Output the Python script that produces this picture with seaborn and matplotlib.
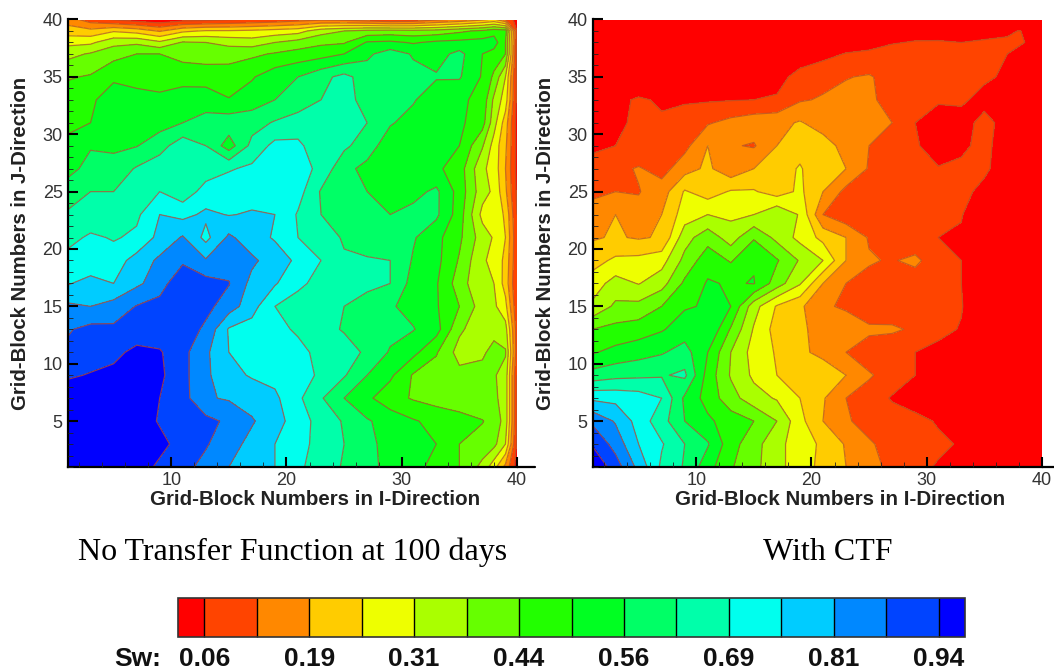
import numpy as np
import matplotlib
matplotlib.use("Agg")
import matplotlib.pyplot as plt
from matplotlib.lines import Line2D
from matplotlib.ticker import MultipleLocator
from matplotlib.colors import BoundaryNorm, ListedColormap
from matplotlib.colorbar import ColorbarBase
import seaborn as sns

I_POS = [1,3,5,7,9,11,13,15,17,19,21,23,25,27,29,31,33,35,37,38,39,40]
J_POS = [1,3,5,7,9,11,13,15,17,19,21,23,25,27,29,31,33,35,37,38,39,40]
SW_STEP = 0.0625   # values below are in units of one contour interval

LEFT_BANDS = [
 [15.9,15.9,15.9,15.5,14.8,14.3,13.7,13.0,12.5,12.0,11.2,10.5,9.9,9.3,8.7,8.2,7.8,7.0,5.7,4.4,2.7,0.5],
 [15.9,15.9,15.9,15.8,15.3,14.6,14.1,13.4,12.7,12.0,11.4,10.6,10.0,9.3,8.6,8.3,8.0,7.0,6.6,6.3,5.0,0.8],
 [15.9,15.9,15.9,15.6,14.9,14.6,14.3,13.8,13.1,12.4,11.5,10.6,9.9,9.1,8.6,8.1,7.7,7.4,7.05,6.6,5.6,1.0],
 [15.9,15.9,15.9,15.8,15.0,14.4,13.1,12.9,12.6,12.2,11.2,10.1,9.0,8.2,7.4,6.9,6.6,6.4,6.2,6.2,5.6,1.0],
 [14.8,15.1,15.4,15.6,15.2,14.3,13.2,12.3,11.9,11.7,11.5,10.8,10.1,9.0,8.2,6.9,6.5,6.3,6.2,6.1,5.6,1.0],
 [14.2,14.3,14.6,15.4,15.1,14.3,13.2,12.0,11.8,11.5,11.2,10.8,10.5,9.8,8.9,8.3,7.1,5.6,5.9,6.2,6.1,1.5],
 [13.9,14.3,14.2,14.1,14.4,14.6,13.8,11.9,11.6,11.2,10.9,10.4,9.9,10.0,9.3,9.05,8.4,6.2,5.3,5.8,5.4,1.5],
 [13.2,13.0,13.4,14.05,14.4,14.6,14.3,13.5,12.4,11.0,10.6,10.2,10.0,9.5,9.1,8.7,8.1,7.0,5.5,5.2,4.3,1.2],
 [11.9,12.4,12.0,12.8,13.5,14.9,14.4,14.05,12.7,12.1,11.2,10.7,10.5,10.3,10.0,8.6,8.1,6.5,5.1,5.0,3.6,1.0],
 [11.4,11.2,11.5,12.4,13.2,13.8,13.1,13.6,13.2,12.5,11.8,11.0,10.2,10.1,10.0,8.9,8.3,6.9,5.1,4.8,3.7,1.2],
 [10.6,11.2,10.9,11.2,12.3,13.1,11.7,13.2,12.4,11.9,11.0,10.9,9.8,9.5,9.3,9.1,8.3,7.2,5.5,4.9,4.0,1.2],
 [10.1,10.2,10.4,10.8,12.0,11.7,12.2,11.95,12.1,12.0,10.9,10.0,9.3,9.2,9.0,9.3,9.2,7.5,4.7,4.8,3.8,1.0],
 [9.6,10.0,10.0,10.4,11.0,10.4,11.4,11.6,11.6,11.6,11.4,9.9,9.2,9.0,8.6,8.7,9.2,7.6,5.4,4.8,3.2,0.8],
 [8.6,9.4,9.4,10.1,10.6,11.0,10.5,10.9,11.2,11.5,11.5,10.7,9.3,8.7,8.4,8.4,8.2,7.5,5.2,4.6,3.0,0.7],
 [8.2,8.9,8.8,8.95,9.6,10.6,10.0,8.5,10.3,11.3,11.2,10.4,10.2,9.5,8.4,8.1,8.2,8.0,6.1,4.6,3.2,0.7],
 [7.8,8.0,8.4,8.5,8.6,9.0,9.4,9.6,9.6,10.1,10.5,10.4,10.5,10.0,9.1,8.6,8.3,8.2,7.4,5.4,3.5,0.6],
 [7.5,7.9,8.3,8.2,8.15,8.4,8.5,8.05,8.5,9.0,9.4,10.0,10.3,9.7,9.4,9.1,8.3,8.2,7.7,5.8,4.5,0.7],
 [6.9,7.1,7.9,7.8,7.7,7.7,7.6,7.5,7.9,8.6,9.0,9.7,10.3,9.5,9.4,9.3,9.1,9.1,7.9,6.8,5.0,0.7],
 [5.7,6.1,6.6,7.0,7.0,6.6,6.5,6.6,6.8,7.1,7.4,7.6,8.0,8.8,9.5,8.9,8.6,9.3,8.0,7.6,7.0,0.8],
 [4.7,4.8,5.7,5.8,5.2,6.1,6.0,5.7,5.5,6.0,6.4,6.8,6.9,8.1,8.2,7.9,8.2,8.3,8.4,8.5,7.0,0.9],
 [3.5,3.3,3.9,3.6,2.9,3.8,4.1,4.1,4.2,4.4,4.6,5.6,6.0,6.3,6.4,6.3,6.4,6.8,7.2,7.6,7.5,1.0],
 [2.5,1.5,0.9,0.5,0.2,0.6,0.7,0.9,1.1,1.3,1.6,1.8,1.7,1.4,1.0,1.2,1.8,2.2,2.8,3.2,2.0,0.5],
]

RIGHT_BANDS = [
 [15.9,14.5,12.7,10.8,9.9,8.4,7.1,6.3,5.3,4.5,3.7,3.0,2.4,1.7,1.3,0.9,0.5,0.3,0.2,0.2,0.2,0.2],
 [14.9,13.6,12.0,11.1,10.0,9.1,7.4,6.4,5.3,4.5,3.8,2.9,2.1,1.7,1.4,1.2,0.9,0.3,0.2,0.2,0.2,0.2],
 [13.8,12.9,11.6,10.4,9.0,8.2,7.5,7.0,6.0,4.3,3.0,2.1,1.7,1.5,1.3,0.9,0.5,0.3,0.2,0.2,0.2,0.2],
 [11.8,11.7,11.5,11.0,8.8,7.6,6.4,5.4,4.9,4.0,3.1,2.0,1.6,0.9,0.5,0.3,0.2,0.2,0.2,0.2,0.2,0.2],
 [9.4,9.7,9.8,9.9,10.2,7.6,5.9,4.8,4.0,4.0,3.9,3.0,2.1,1.6,1.0,0.5,0.3,0.2,0.2,0.2,0.2,0.2],
 [7.9,8.3,8.6,8.9,9.4,8.0,6.0,4.6,3.9,3.3,2.6,2.0,1.5,1.1,1.0,0.8,0.4,0.3,0.2,0.2,0.2,0.2],
 [7.0,7.3,7.5,7.9,8.5,9.0,6.9,4.9,3.6,3.1,2.8,2.4,2.2,2.2,1.8,1.2,0.95,0.3,0.2,0.2,0.2,0.2],
 [5.2,6.2,6.3,7.0,7.9,8.1,8.0,5.4,3.9,3.2,2.1,1.9,1.3,1.2,1.1,1.0,1.05,0.3,0.2,0.2,0.2,0.2],
 [4.5,5.4,4.95,5.6,7.2,8.1,7.9,8.05,6.5,5.1,3.0,2.0,1.7,1.5,1.3,1.2,1.0,0.3,0.2,0.2,0.2,0.2],
 [3.6,4.2,4.3,4.6,6.3,7.6,6.9,7.9,7.1,5.9,5.0,3.0,2.1,1.9,2.3,1.2,1.0,0.3,0.2,0.2,0.2,0.2],
 [2.9,3.1,2.9,3.1,5.6,6.6,5.5,6.9,5.7,4.7,3.7,3.0,1.9,1.5,1.1,1.0,0.9,0.3,0.2,0.2,0.2,0.2],
 [2.1,3.0,2.3,3.0,4.5,5.0,4.8,5.0,5.9,4.9,2.0,1.3,1.9,1.5,1.3,1.1,1.05,0.3,0.2,0.2,0.2,0.2],
 [1.95,2.0,1.95,2.5,4.1,3.5,4.1,4.1,3.5,4.2,3.0,1.7,1.5,1.4,1.3,1.2,1.3,0.7,0.2,0.2,0.2,0.2],
 [1.3,1.7,2.1,1.6,2.6,3.2,2.3,3.0,3.5,4.1,3.2,3.0,1.9,1.3,1.2,1.05,1.2,1.2,0.4,0.2,0.2,0.2],
 [0.85,1.0,1.1,1.2,1.7,3.0,2.1,1.9,3.0,3.6,3.5,2.6,2.0,1.4,1.1,0.6,0.8,1.3,0.4,0.2,0.2,0.2],
 [0.7,0.95,1.05,1.1,1.4,1.9,2.3,2.6,2.7,3.1,2.5,2.4,2.2,2.0,1.0,0.6,0.5,1.4,0.5,0.2,0.2,0.2],
 [0.5,0.8,1.1,0.9,0.9,0.9,0.95,1.0,1.1,1.9,2.1,2.3,2.2,1.6,1.2,1.1,1.2,0.6,0.3,0.2,0.2,0.2],
 [0.2,0.2,0.3,0.3,0.3,0.3,0.4,0.5,0.7,1.3,1.7,1.95,2.1,1.6,1.4,1.3,1.2,1.2,0.8,0.4,0.2,0.2],
 [0.1,0.1,0.1,0.1,0.1,0.1,0.1,0.2,0.3,0.5,0.7,1.05,1.15,1.6,1.3,1.2,1.2,1.15,1.0,0.8,0.3,0.2],
 [0.1,0.1,0.1,0.1,0.1,0.1,0.1,0.1,0.1,0.2,0.3,0.5,0.7,0.9,1.1,1.1,1.0,1.1,1.1,1.1,0.9,0.2],
 [0.1,0.1,0.1,0.1,0.1,0.1,0.1,0.1,0.1,0.1,0.1,0.2,0.2,0.3,0.4,0.5,0.6,0.7,0.9,1.02,0.9,0.2],
 [0.1,0.1,0.1,0.1,0.1,0.1,0.1,0.1,0.1,0.1,0.1,0.1,0.1,0.1,0.1,0.1,0.1,0.1,0.1,0.1,0.1,0.1],
]

BAND_COLORS = ["#ff0000","#ff4400","#ff8800","#ffcc00","#eeff00","#aaff00","#66ff00","#22ff00",
               "#00ff22","#00ff66","#00ffaa","#00ffee","#00ccff","#0088ff","#0044ff","#0000ff"]
CBAR_TICKS = [0.0625,0.1875,0.3125,0.4375,0.5625,0.6875,0.8125,0.9375]
CBAR_LABELS = ["0.06","0.19","0.31","0.44","0.56","0.69","0.81","0.94"]
X_LABEL = "Grid-Block Numbers in I-Direction"
Y_LABEL = "Grid-Block Numbers in J-Direction"
CAPTIONS = ["No Transfer Function at 100 days", "With CTF"]

sns.set_theme(style="ticks")
W, H = 1054, 671
fig = plt.figure(figsize=(W/100, H/100), dpi=100)
palette = sns.color_palette(BAND_COLORS)
levels = np.arange(0, 17) * SW_STEP
cmap = ListedColormap(palette)
norm = BoundaryNorm(levels, cmap.N)

def axes_px(x0, y0, x1, y1):
    return fig.add_axes([x0/W, 1-y1/H, (x1-x0)/W, (y1-y0)/H])

def panel(box, table, axis_end):
    ax = axes_px(*box)
    Z = np.array(table) * SW_STEP
    ax.contourf(I_POS, J_POS, Z, levels=levels, cmap=cmap, norm=norm)
    ax.contour(I_POS, J_POS, Z, levels=levels[1:-1], colors="#b5502a", linewidths=0.9, alpha=0.75)
    ax.set_xlim(1, 40); ax.set_ylim(1, 40)
    ax.set_axisbelow(False)
    ax.xaxis.set_major_locator(MultipleLocator(10)); ax.xaxis.set_minor_locator(MultipleLocator(2))
    ax.yaxis.set_major_locator(MultipleLocator(5)); ax.yaxis.set_minor_locator(MultipleLocator(1))
    ax.tick_params(which="major", direction="in", length=7.5, width=1.5, color="black",
                   labelsize=13, labelcolor="#333333", pad=3.5)
    ax.tick_params(which="minor", direction="in", length=3.5, width=0.6, color="#222222")
    for lab in ax.get_xticklabels()+ax.get_yticklabels():
        lab.set_fontfamily("Liberation Sans")
    sns.despine(ax=ax)
    for s in ("left","bottom"):
        ax.spines[s].set_linewidth(1.6); ax.spines[s].set_color("black")
    ax.set_xlabel(X_LABEL, family="Liberation Sans", fontweight="bold", fontsize=14.8, color="#222222")
    ax.xaxis.set_label_coords(0.5 + 23/(box[2]-box[0]), -23/(box[3]-box[1]))
    ax.set_ylabel(Y_LABEL, family="Liberation Sans", fontweight="bold", fontsize=14.7, color="#222222", labelpad=9)
    fig.add_artist(Line2D([box[2]/W, axis_end/W], [1-box[3]/H]*2, color="black", lw=1.6))
    return ax

panel((67.5, 19.5, 517, 467), LEFT_BANDS, 535)
panel((592.5, 19.5, 1042, 467), RIGHT_BANDS, 1054)

fig.text(292.5/W, 1-552/H, CAPTIONS[0], family="Liberation Serif", fontsize=23, ha="center", va="center", color="black")
fig.text(828/W, 1-552/H, CAPTIONS[1], family="Liberation Serif", fontsize=23, ha="center", va="center", color="black")

cax = axes_px(178, 598, 965, 637)
bounds = np.concatenate([[SW_STEP/2], levels[1:-1], [levels[-1]-SW_STEP/2]])
cb = ColorbarBase(cax, cmap=cmap, norm=BoundaryNorm(bounds, cmap.N), boundaries=bounds,
                  orientation="horizontal", spacing="proportional", drawedges=True, ticks=CBAR_TICKS)
cb.dividers.set_color("black"); cb.dividers.set_linewidth(1)
cb.outline.set_edgecolor("#333333"); cb.outline.set_linewidth(1.2)
cb.set_ticklabels(CBAR_LABELS)
cax.minorticks_off()
cax.tick_params(which="both", length=0, pad=7, labelsize=19)
for lab in cax.get_xticklabels():
    lab.set_fontfamily("Liberation Sans"); lab.set_fontweight("bold"); lab.set_color("#111111")
fig.text(137.5/W, 1-659/H, "Sw:", family="Liberation Sans", fontweight="bold", fontsize=19, ha="center", va="center", color="#111111")

fig.savefig("out.png", dpi=100)
